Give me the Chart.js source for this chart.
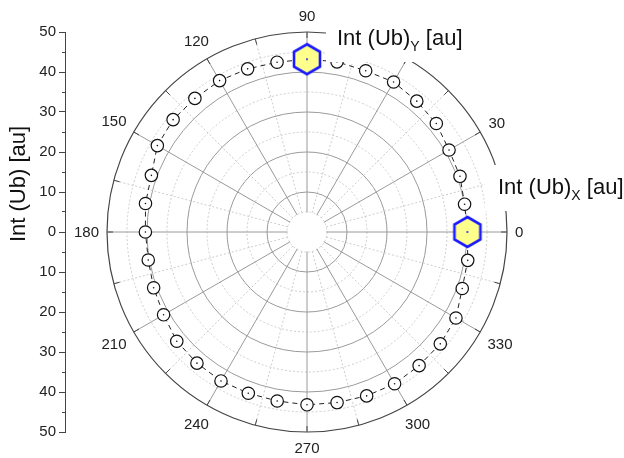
<!DOCTYPE html>
<html><head><meta charset="utf-8">
<script src="https://cdn.jsdelivr.net/npm/chart.js@4.4.1/dist/chart.umd.min.js"></script>
<style>html,body{margin:0;padding:0;background:#fff}#wrap{width:624px;height:458px;position:relative}</style>
</head><body><div id="wrap"><canvas id="c"></canvas></div>
<script>
// ---- data ----
const angles = [0,10,20,30,40,50,60,70,80,90,100,110,120,130,140,150,160,170,180,190,200,210,220,230,240,250,260,270,280,290,300,310,320,330,340,350];
const intensity = [40.1,40.0,40.7,41.0,42.2,42.7,43.3,42.9,43.2,43.2,43.1,43.4,43.7,43.6,43.7,43.2,41.4,41.0,40.4,40.3,40.8,41.4,42.5,42.8,43.0,42.9,42.9,43.2,43.3,43.6,43.8,43.6,43.5,43.0,41.3,40.8];
const highlightAngles = [0, 90];
const angleTickLabels = [0,30,60,90,120,150,180,210,240,270,300,330];
const yTitle = 'Int (Ub) [au]';
const labelY = ['Int (Ub)', 'Y', ' [au]'];
const labelX = ['Int (Ub)', 'X', ' [au]'];

const FONT = '"Liberation Sans", Arial, Helvetica, sans-serif';
const STEP = 5;
const slots = [];
for (let i = 0; i < 360 / STEP; i++) slots.push((360 - i * STEP) % 360);
const mainData = slots.map(a => { const k = angles.indexOf(a); return k >= 0 ? intensity[k] : null; });
const hiData = slots.map(a => highlightAngles.includes(a) ? intensity[angles.indexOf(a)] : null);

function makeHex() {
  const c = document.createElement('canvas'); c.width = 36; c.height = 36;
  const x = c.getContext('2d');
  x.beginPath();
  for (let k = 0; k < 6; k++) {
    const t = -Math.PI / 2 + k * Math.PI / 3;
    const px = 18 + 15 * Math.cos(t), py = 18 + 15 * Math.sin(t);
    k ? x.lineTo(px, py) : x.moveTo(px, py);
  }
  x.closePath();
  x.fillStyle = '#ffff8c'; x.fill();
  x.lineWidth = 2.6; x.strokeStyle = '#1a1aff'; x.lineJoin = 'miter'; x.stroke();
  x.beginPath(); x.arc(18, 18, 1, 0, Math.PI * 2); x.fillStyle = '#1a1aff'; x.fill();
  return c;
}

function drawSub(ctx, x, base, parts) {
  ctx.textAlign = 'left'; ctx.textBaseline = 'alphabetic'; ctx.fillStyle = '#111';
  ctx.font = '22px ' + FONT; ctx.fillText(parts[0], x, base);
  let w = ctx.measureText(parts[0]).width;
  ctx.font = '14px ' + FONT; ctx.fillText(parts[1], x + w, base + 6);
  w += ctx.measureText(parts[1]).width;
  ctx.font = '22px ' + FONT; ctx.fillText(parts[2], x + w, base);
}

const decor = {
  id: 'decor',
  beforeDatasetsDraw(chart) {
    const s = chart.scales.r, ctx = chart.ctx;
    const R = s.drawingArea;
    ctx.save();
    ctx.fillStyle = '#fff';
    ctx.beginPath(); ctx.arc(s.xCenter, s.yCenter, s.getDistanceFromCenterForValue(5) - 0.6, 0, Math.PI * 2); ctx.fill();
    ctx.strokeStyle = '#444'; ctx.lineWidth = 1;
    slots.forEach((a, i) => {
      if (a % 15) return;
      const p1 = s.getPointPosition(i, R), p2 = s.getPointPosition(i, R - 6);
      ctx.beginPath(); ctx.moveTo(p1.x, p1.y); ctx.lineTo(p2.x, p2.y); ctx.stroke();
    });
    ctx.restore();
  },
  afterDraw(chart) {
    const s = chart.scales.r, ctx = chart.ctx;
    const xc = s.xCenter, yc = s.yCenter, R = s.drawingArea;
    ctx.save();
    // angle labels
    ctx.font = '15px ' + FONT; ctx.fillStyle = '#222';
    ctx.textAlign = 'center'; ctx.textBaseline = 'middle';
    angleTickLabels.forEach(a => {
      const t = a * Math.PI / 180, txt = String(a);
      const w = ctx.measureText(txt).width;
      const d = R + 8 + Math.abs(Math.cos(t)) * w / 2 + Math.abs(Math.sin(t)) * 8;
      ctx.fillText(txt, xc + d * Math.cos(t), yc - d * Math.sin(t) + 1);
    });
    // label backgrounds
    ctx.fillStyle = '#fff';
    ctx.fillRect(xc + 19, yc - R - 14, 146, 44);
    ctx.fillRect(xc + 178, yc - 67, chart.width - (xc + 178), 46);
    drawSub(ctx, xc + 30, yc - R + 13, labelY);
    drawSub(ctx, xc + 191, yc - 38, labelX);
    // y title
    ctx.translate(25, yc - 48);
    ctx.rotate(-Math.PI / 2);
    ctx.font = '22px ' + FONT; ctx.fillStyle = '#111';
    ctx.textAlign = 'center'; ctx.textBaseline = 'alphabetic';
    ctx.fillText(yTitle, 0, 0);
    ctx.restore();
  }
};

const angOf = i => slots[i];
new Chart(document.getElementById('c'), {
  type: 'radar',
  data: {
    labels: slots.map(String),
    datasets: [
      { data: hiData, showLine: false, pointStyle: makeHex(), pointRadius: 16, pointHoverRadius: 16, order: 1 },
      { data: mainData, showLine: false, pointStyle: 'circle', pointRadius: 0.8, pointHoverRadius: 0.8,
        pointBorderWidth: 0, pointBackgroundColor: '#111', order: 2 },
      { data: mainData, spanGaps: true, fill: false, borderColor: '#222', borderWidth: 1, borderDash: [5, 4],
        backgroundColor: 'rgba(0,0,0,0)', pointStyle: 'circle', pointRadius: 6.2, pointHoverRadius: 6.2,
        pointBorderWidth: 1.2, pointBorderColor: '#111', pointBackgroundColor: '#fff', order: 3 }
    ]
  },
  options: {
    responsive: true, maintainAspectRatio: false, animation: false,
    events: [],
    layout: { padding: { left: 0, top: 32, right: 75, bottom: 26 } },
    plugins: { legend: { display: false }, tooltip: { enabled: false } },
    elements: { line: { tension: 0 } },
    scales: {
      r: {
        min: 0, max: 50, startAngle: 90,
        ticks: { display: false, stepSize: 5 },
        pointLabels: { display: false },
        grid: {
          circular: true,
          color: c => c.tick.value === 50 ? '#444' : (c.tick.value % 10 === 0 ? '#9a9a9a' : '#cccccc'),
          lineWidth: c => c.tick.value === 50 ? 1.2 : 1
        },
        border: { dash: c => (c.tick && c.tick.value % 10 !== 0) ? [2, 2] : [] },
        angleLines: {
          color: c => angOf(c.index) % 30 === 0 ? '#9a9a9a' : '#cccccc',
          lineWidth: c => angOf(c.index) % 15 === 0 ? 1 : 0,
          borderDash: c => angOf(c.index) % 30 === 0 ? [] : [2, 2]
        }
      },
      y: {
        type: 'linear', position: 'left', weight: 1, min: -50, max: 50,
        ticks: { stepSize: 10, callback: v => Math.abs(v), font: { family: FONT, size: 15 }, color: '#222', padding: 3 },
        grid: { drawOnChartArea: false, tickLength: 6, tickColor: '#444', tickWidth: 1 },
        border: { color: '#444', width: 1 },
        afterFit(sc) { sc.width = 65; }
      },
      y2: {
        type: 'linear', axis: 'y', position: 'left', weight: 0, min: -50, max: 50,
        ticks: { display: false, stepSize: 5 },
        grid: { drawOnChartArea: false, tickLength: 3, tickColor: '#444', tickWidth: 1 },
        border: { display: false },
        afterFit(sc) { sc.width = 0; }
      }
    }
  },
  plugins: [decor]
});
</script>
</body></html>
